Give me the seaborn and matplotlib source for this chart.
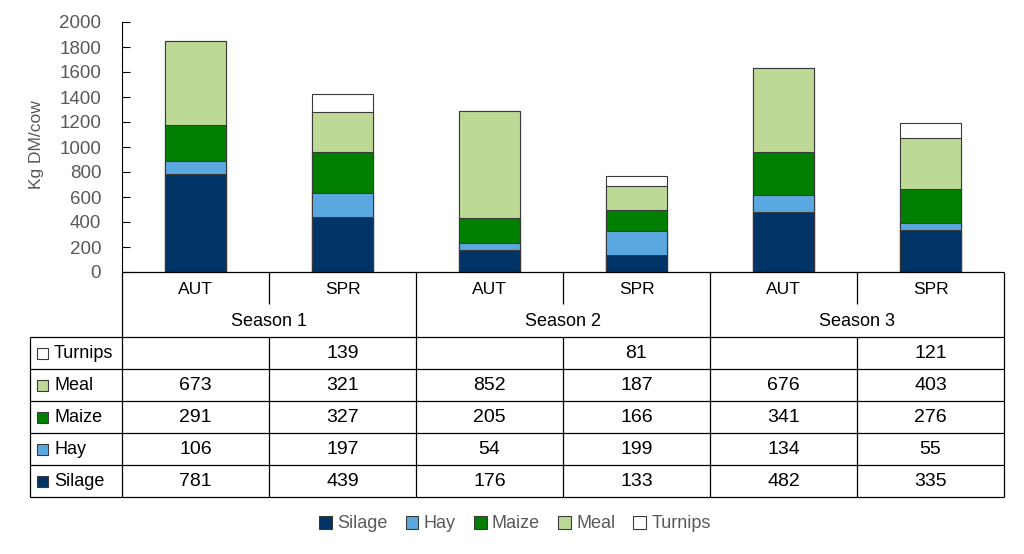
import numpy as np
import pandas as pd
import seaborn as sns
import matplotlib.pyplot as plt
from matplotlib.patches import Patch, Rectangle

## chart values
seasons = ["Season 1", "Season 2", "Season 3"]
periods = ["AUT", "SPR"]
feeds = ["Silage", "Hay", "Maize", "Meal", "Turnips"]
silage = [781, 439, 176, 133, 482, 335]
hay = [106, 197, 54, 199, 134, 55]
maize = [291, 327, 205, 166, 341, 276]
meal = [673, 321, 852, 187, 676, 403]
turnips = [np.nan, 139, np.nan, 81, np.nan, 121]

colors = {"Silage": "#003366", "Hay": "#5ba7e0", "Maize": "#007f00",
          "Meal": "#bdd996", "Turnips": "#ffffff"}

keys = [f"{s}|{p}" for s in seasons for p in periods]
df = pd.DataFrame({"key": keys, "Silage": silage, "Hay": hay, "Maize": maize,
                   "Meal": meal, "Turnips": turnips})
cum = df[feeds].fillna(0).cumsum(axis=1)

sns.set_theme(style="white")
plt.rcParams["font.family"] = ["Liberation Sans", "DejaVu Sans"]
W, H = 1024, 554
grey = "#595959"

fig = plt.figure(figsize=(W / 100, H / 100), dpi=100)
ax = fig.add_axes([122 / W, 1 - 272 / H, 882 / W, 250 / H])

## stacked bars: draw cumulative totals from the top layer down
for f in reversed(feeds):
    layer = pd.DataFrame({"key": keys, "top": cum[f]})
    sns.barplot(data=layer, x="key", y="top", order=keys, color=colors[f],
                saturation=1, width=0.41, edgecolor="#3a3a3a", linewidth=0.8,
                errorbar=None, ax=ax)

ax.set_xlim(-0.5, 5.5)
ax.set_ylim(0, 2000)
ax.set_yticks(range(0, 2001, 200))
ax.set_xticks([])
ax.set_xlabel("")
ax.set_ylabel("")
ax.tick_params(axis="y", direction="in", length=6, width=0.8, color="black",
               labelsize=13.5, labelcolor=grey, pad=15, left=True)
for s in ["top", "right", "bottom"]:
    ax.spines[s].set_visible(False)
ax.spines["left"].set_color("black")
ax.spines["left"].set_linewidth(0.8)
fig.text(37 / W, 1 - 145 / H, "Kg DM/cow", rotation=90, ha="center",
         va="center", fontsize=12.5, color=grey)

## data table underneath, in pixel coordinates
ov = fig.add_axes([0, 0, 1, 1])
ov.set_xlim(0, W)
ov.set_ylim(H, 0)
ov.axis("off")
ov.patch.set_alpha(0)

fig.canvas.draw()
col_px = [ax.transData.transform((i - 0.5, 0))[0] for i in range(7)]
left_px = 30
lw = 0.9

def hline(y, x0, x1):
    ov.plot([x0, x1], [y, y], color="black", lw=lw, solid_capstyle="butt")

def vline(x, y0, y1):
    ov.plot([x, x], [y0, y1], color="black", lw=lw, solid_capstyle="butt")

y_top, y_per, y_sea = 272, 304, 337
row_h = 32
hline(y_top, col_px[0], col_px[-1])
for r in range(6):
    hline(y_sea + r * row_h, left_px, col_px[-1])
y_bot = y_sea + 5 * row_h
vline(left_px, y_sea, y_bot)
for i in [0, 2, 4, 6]:
    vline(col_px[i], y_top, y_bot)
for i in [1, 3, 5]:
    vline(col_px[i], y_top, y_per)
    vline(col_px[i], y_sea, y_bot)

for i, k in enumerate(keys):
    cx = (col_px[i] + col_px[i + 1]) / 2
    ov.text(cx, (y_top + y_per) / 2 + 1, k.split("|")[1], ha="center",
            va="center", fontsize=12.5, color="black")
for j, s in enumerate(seasons):
    cx = (col_px[2 * j] + col_px[2 * j + 2]) / 2
    ov.text(cx, (y_per + y_sea) / 2 + 1, s, ha="center", va="center",
            fontsize=13, color="black")

for r, f in enumerate(reversed(feeds)):
    cy = y_sea + r * row_h + row_h / 2
    ov.add_patch(Rectangle((37, cy - 5.5), 11, 11, facecolor=colors[f],
                           edgecolor="#3a3a3a", lw=0.8))
    ov.text(54, cy + 1, f, ha="left", va="center", fontsize=13,
            color="black")
    for i, v in enumerate(df[f]):
        if pd.notna(v):
            cx = (col_px[i] + col_px[i + 1]) / 2
            ov.text(cx, cy + 1, f"{int(v)}", ha="center", va="center",
                    fontsize=14, color="black")

## legend
handles = [Patch(facecolor=colors[f], edgecolor="#3a3a3a", lw=0.8, label=f)
           for f in feeds]
fig.legend(handles=handles, loc="center", bbox_to_anchor=(0.503, 1 - 524 / H),
           ncol=5, frameon=False, fontsize=13, labelcolor=grey,
           handlelength=0.7, handleheight=0.7, handletextpad=0.3,
           columnspacing=1.0)

fig.savefig("out.png", dpi=100)
